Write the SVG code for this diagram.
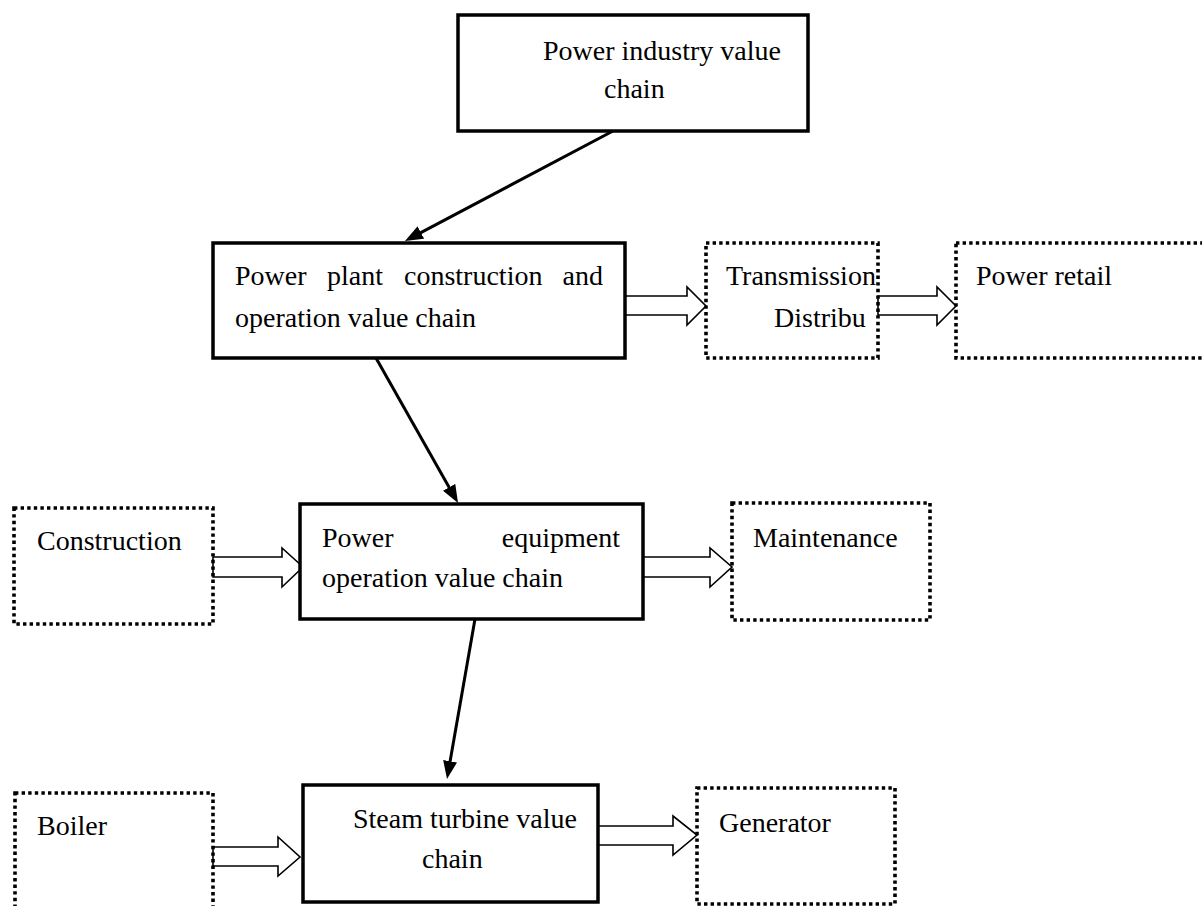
<svg xmlns="http://www.w3.org/2000/svg" width="1202" height="906" viewBox="0 0 1202 906">
<style>
.solid{fill:#fff;stroke:#000;stroke-width:3.5}
.dot{fill:none;stroke:#000;stroke-width:3.6;stroke-dasharray:3.4 3.2}
.bg{fill:#fff;stroke:none}
.t{font-family:"Liberation Serif","Times New Roman",serif;font-size:28px;fill:#000}
.line{stroke:#000;stroke-width:3;fill:none}
.hollow{fill:#fff;stroke:#000;stroke-width:1.6;stroke-linejoin:miter}
</style>
<defs>
<marker id="ah" markerUnits="userSpaceOnUse" markerWidth="18" markerHeight="14" refX="7" refY="7" orient="auto">
<path d="M0,0 L18,7 L0,14 z" fill="#000"/>
</marker>
</defs>
<rect width="1202" height="906" fill="#fff"/>

<g id="connectors">
<line class="line" x1="613" y1="131" x2="414.7" y2="235.8" marker-end="url(#ah)"/>
<line class="line" x1="376" y1="358" x2="452.6" y2="493.4" marker-end="url(#ah)"/>
<line class="line" x1="475" y1="619" x2="448.9" y2="768.2" marker-end="url(#ah)"/>
<polygon class="hollow" points="625,296 687,296 687,287 706,306 687,325 687,315 625,315"/>
<polygon class="hollow" points="878,296 937,296 937,287 956,306 937,325 937,315 878,315"/>
<polygon class="hollow" points="213,557 282,557 282,548 303,567 282,587 282,577 213,577"/>
<polygon class="hollow" points="643,557 710,557 710,548 732,567 710,587 710,577 643,577"/>
<polygon class="hollow" points="213,847 278,847 278,837 300,857 278,876 278,866 213,866"/>
<polygon class="hollow" points="598,826 673,826 673,816 697,835 673,855 673,845 598,845"/>
</g>

<g id="power-industry">
<rect class="solid" x="458" y="15" width="350" height="116"/>
<text class="t" x="543" y="60">Power industry value</text>
<text class="t" x="604" y="98">chain</text>
</g>

<g id="power-plant">
<rect class="solid" x="213" y="243" width="412" height="115"/>
<text class="t" x="235" y="285">Power</text>
<text class="t" x="327" y="285">plant</text>
<text class="t" x="404" y="285">construction</text>
<text class="t" x="603" y="285" text-anchor="end">and</text>
<text class="t" x="235" y="327">operation value chain</text>
</g>

<g id="transmission">
<rect class="dot" x="706" y="243" width="172" height="115"/>
<text class="t" x="726" y="285">Transmission</text>
<text class="t" x="774" y="327">Distribu</text>
</g>

<g id="power-retail">
<rect class="dot" x="956" y="243" width="260" height="115"/>
<text class="t" x="976" y="285">Power retail</text>
</g>

<g id="construction">
<rect class="dot" x="14" y="508" width="199" height="116"/>
<text class="t" x="37" y="550">Construction</text>
</g>

<g id="power-equipment">
<rect class="solid" x="300" y="504" width="343" height="115"/>
<text class="t" x="322" y="547">Power</text>
<text class="t" x="620" y="547" text-anchor="end">equipment</text>
<text class="t" x="322" y="587">operation value chain</text>
</g>

<g id="maintenance">
<rect class="dot" x="732" y="503" width="198" height="117"/>
<text class="t" x="753" y="547">Maintenance</text>
</g>

<g id="boiler">
<rect class="dot" x="15" y="793" width="198" height="130"/>
<text class="t" x="37" y="835">Boiler</text>
</g>

<g id="steam-turbine">
<rect class="solid" x="303" y="785" width="295" height="117"/>
<text class="t" x="353" y="828">Steam turbine value</text>
<text class="t" x="422" y="868">chain</text>
</g>

<g id="generator">
<rect class="dot" x="697" y="788" width="198" height="116"/>
<text class="t" x="719" y="832">Generator</text>
</g>
</svg>
